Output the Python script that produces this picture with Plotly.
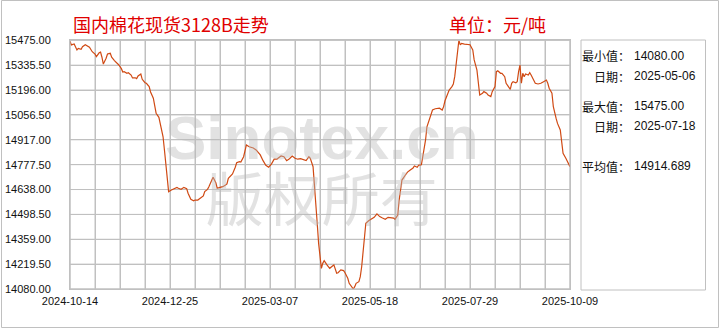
import plotly.graph_objects as go
import pandas as pd

# ---------------- data ----------------
title_text = "国内棉花现货3128B走势"
unit_text = "单位：元/吨"

dates = [
    "2024-10-14", "2024-10-15", "2024-10-17", "2024-10-19", "2024-10-20", "2024-10-22", "2024-10-23", "2024-10-25", "2024-10-28", "2024-10-30",
    "2024-11-01", "2024-11-02", "2024-11-04", "2024-11-05", "2024-11-06", "2024-11-07", "2024-11-09", "2024-11-10", "2024-11-12", "2024-11-13",
    "2024-11-15", "2024-11-17", "2024-11-18", "2024-11-20", "2024-11-21", "2024-11-22", "2024-11-24", "2024-11-25", "2024-11-27", "2024-11-28", "2024-11-30",
    "2024-12-01", "2024-12-02", "2024-12-04", "2024-12-05", "2024-12-07", "2024-12-08", "2024-12-10", "2024-12-11", "2024-12-13", "2024-12-14", "2024-12-15",
    "2024-12-17", "2024-12-18", "2024-12-20", "2024-12-21", "2024-12-22", "2024-12-23", "2024-12-24", "2024-12-26", "2024-12-28", "2024-12-30", "2024-12-31",
    "2025-01-02", "2025-01-04", "2025-01-06", "2025-01-07", "2025-01-09", "2025-01-11", "2025-01-12", "2025-01-14", "2025-01-16", "2025-01-18",
    "2025-01-19", "2025-01-21", "2025-01-22", "2025-01-23", "2025-01-25", "2025-01-27", "2025-01-28", "2025-01-30",
    "2025-02-01", "2025-02-03", "2025-02-04", "2025-02-05", "2025-02-07", "2025-02-08", "2025-02-10", "2025-02-11", "2025-02-13", "2025-02-14",
    "2025-02-16", "2025-02-17", "2025-02-18", "2025-02-20", "2025-02-23", "2025-02-25", "2025-02-28",
    "2025-03-02", "2025-03-04", "2025-03-06", "2025-03-08", "2025-03-10", "2025-03-12", "2025-03-13", "2025-03-15", "2025-03-17", "2025-03-19",
    "2025-03-21", "2025-03-23", "2025-03-25", "2025-03-27", "2025-03-29", "2025-03-31",
    "2025-04-02", "2025-04-04", "2025-04-05", "2025-04-07", "2025-04-08", "2025-04-09", "2025-04-10", "2025-04-11", "2025-04-12", "2025-04-13",
    "2025-04-14", "2025-04-15", "2025-04-17", "2025-04-18", "2025-04-19", "2025-04-21", "2025-04-22", "2025-04-24", "2025-04-25", "2025-04-27",
    "2025-04-29", "2025-04-30",
    "2025-05-02", "2025-05-03", "2025-05-06", "2025-05-07", "2025-05-08", "2025-05-10", "2025-05-11", "2025-05-12", "2025-05-13", "2025-05-14",
    "2025-05-15", "2025-05-17", "2025-05-19", "2025-05-21", "2025-05-23", "2025-05-25", "2025-05-27", "2025-05-29", "2025-05-31",
    "2025-06-02", "2025-06-04", "2025-06-05", "2025-06-07", "2025-06-08", "2025-06-09", "2025-06-10", "2025-06-12", "2025-06-14", "2025-06-16",
    "2025-06-18", "2025-06-19", "2025-06-21", "2025-06-22", "2025-06-24", "2025-06-25", "2025-06-26", "2025-06-27", "2025-06-28", "2025-06-30",
    "2025-07-01", "2025-07-02", "2025-07-04", "2025-07-07", "2025-07-09", "2025-07-10", "2025-07-11", "2025-07-13", "2025-07-14", "2025-07-16",
    "2025-07-17", "2025-07-18", "2025-07-19", "2025-07-20", "2025-07-21", "2025-07-22", "2025-07-23", "2025-07-25", "2025-07-27", "2025-07-29", "2025-07-31",
    "2025-08-01", "2025-08-03", "2025-08-04", "2025-08-05", "2025-08-07", "2025-08-08", "2025-08-10", "2025-08-11", "2025-08-13", "2025-08-14",
    "2025-08-16", "2025-08-17", "2025-08-18", "2025-08-20", "2025-08-21", "2025-08-23", "2025-08-24", "2025-08-26", "2025-08-27", "2025-08-28",
    "2025-08-29", "2025-08-31",
    "2025-09-01", "2025-09-02", "2025-09-03", "2025-09-04", "2025-09-05", "2025-09-06", "2025-09-07", "2025-09-09", "2025-09-10", "2025-09-11",
    "2025-09-13", "2025-09-14", "2025-09-16", "2025-09-18", "2025-09-20", "2025-09-22", "2025-09-23", "2025-09-24", "2025-09-26", "2025-09-27",
    "2025-09-29", "2025-09-30",
    "2025-10-02", "2025-10-03", "2025-10-04", "2025-10-06", "2025-10-07", "2025-10-09",
]

prices = [
    15470, 15449, 15454, 15421, 15430, 15425, 15439, 15450, 15436, 15411,
    15398, 15383, 15405, 15409, 15380, 15342, 15374, 15398, 15402, 15380,
    15361, 15349, 15338, 15316, 15297, 15299, 15290, 15293, 15280, 15264, 15265,
    15260, 15275, 15286, 15256, 15237, 15234, 15215, 15185, 15150, 15107, 15066,
    15043, 15000, 14934, 14860, 14766, 14673, 14626, 14635, 14645, 14650, 14645,
    14639, 14650, 14643, 14617, 14583, 14575, 14579, 14579, 14590, 14602,
    14626, 14639, 14654, 14673, 14707, 14676, 14645, 14650,
    14654, 14663, 14669, 14701, 14714, 14725, 14763, 14788, 14794, 14792,
    14822, 14864, 14888, 14878, 14871, 14860, 14832,
    14800, 14774, 14763, 14781, 14808, 14808, 14815, 14826, 14822, 14800,
    14811, 14826, 14813, 14808, 14811, 14804,
    14800, 14822, 14813, 14766, 14673, 14561, 14449, 14336, 14243, 14196,
    14224, 14239, 14215, 14202, 14196, 14209, 14215, 14168, 14171, 14187,
    14183, 14171,
    14140, 14112, 14080, 14093, 14112, 14121, 14149, 14205, 14280, 14373,
    14449, 14463, 14471, 14482, 14501, 14486, 14478, 14471, 14482,
    14478, 14478, 14471, 14495, 14579, 14654, 14691, 14714, 14736, 14748,
    14759, 14770, 14763, 14774, 14777, 14822, 14860, 14916, 14990, 15037,
    15056, 15084, 15091, 15094, 15084, 15103, 15136, 15178, 15196, 15215,
    15230, 15271, 15346, 15421, 15475, 15449, 15458, 15454, 15454, 15450, 15421,
    15365, 15308, 15234, 15168, 15178, 15187, 15178, 15168, 15159, 15187,
    15215, 15299, 15304, 15290, 15290, 15271, 15234, 15211, 15200, 15234,
    15243, 15237,
    15243, 15299, 15336, 15234, 15290, 15271, 15286, 15280, 15293, 15280,
    15252, 15234, 15230, 15234, 15243, 15252, 15234, 15206, 15178, 15103,
    15037, 15009,
    14972, 14897, 14841, 14813, 14794, 14766,
]

x_start = "2024-10-14"
x_end = "2025-10-09"
y_min = 14080.0
y_max = 15475.0

stat_labels = ["最小值：", "日期：", "最大值：", "日期：", "平均值："]
stat_values = ["14080.00", "2025-05-06", "15475.00", "2025-07-18", "14914.689"]

watermark_lines = ["Sinotex.cn", "版权所有"]

# ---------------- styling / layout ----------------
W, H = 720, 330
def px(x):
    return x / W
def py(y):
    return 1 - y / H

GRID = "#c0c0c0"
LINE = "#d04a14"
RED = "#e00000"
CLEAR = "rgba(0,0,0,0)"
DAY = 86400000
X_MINOR_DAYS = 18
Y_STEP = (y_max - y_min) / 10
TICK_FONT = dict(family="Liberation Sans, Arial, sans-serif", size=11, color="#111")
CJK = "Noto Sans CJK SC, sans-serif"

# grid drawn as a trace beneath the price line, derived from the axis tick settings
grid_x, grid_y = [], []
n_x = int((pd.Timestamp(x_end) - pd.Timestamp(x_start)).days // X_MINOR_DAYS)
for k in range(n_x + 1):
    xv = (pd.Timestamp(x_start) + pd.Timedelta(days=X_MINOR_DAYS * k)).strftime("%Y-%m-%d")
    grid_x += [xv, xv, None]
    grid_y += [y_min, y_max, None]
for k in range(11):
    yv = y_min + Y_STEP * k
    grid_x += [x_start, x_end, None]
    grid_y += [yv, yv, None]

fig = go.Figure()
fig.add_trace(go.Scatter(
    x=grid_x, y=grid_y, mode="lines", connectgaps=False,
    line=dict(color=GRID, width=1),
    hoverinfo="skip", showlegend=False,
))
fig.add_trace(go.Scatter(
    x=dates, y=prices, mode="lines",
    line=dict(color=LINE, width=1.2),
    hoverinfo="skip", showlegend=False,
))

fig.update_layout(
    width=W, height=H, autosize=False,
    margin=dict(l=0, r=0, t=0, b=0, pad=0, autoexpand=False),
    paper_bgcolor="white", plot_bgcolor="white",
    showlegend=False,
    xaxis=dict(
        type="date", domain=[px(70), px(570)], range=[x_start, x_end],
        automargin=False,
        tick0=x_start, dtick=4 * X_MINOR_DAYS * DAY, tickformat="%Y-%m-%d",
        showgrid=True, gridcolor=GRID, gridwidth=1,
        minor=dict(tick0=x_start, dtick=X_MINOR_DAYS * DAY, showgrid=True, gridcolor=GRID, gridwidth=1),
        showline=True, linecolor=GRID, linewidth=1, mirror=True,
        ticks="outside", ticklen=2, tickcolor=CLEAR,
        zeroline=False, tickfont=TICK_FONT,
    ),
    yaxis=dict(
        domain=[py(289), py(40.3)], range=[y_min, y_max],
        automargin=False,
        tick0=y_min, dtick=Y_STEP, tickformat=".2f",
        showgrid=True, gridcolor=GRID, gridwidth=1,
        showline=True, linecolor=GRID, linewidth=1, mirror=True,
        ticks="outside", ticklen=16, tickcolor=CLEAR,
        zeroline=False, tickfont=TICK_FONT,
    ),
)

shapes = [
    # plot-area frame
    dict(type="rect", xref="x domain", yref="y domain", x0=0, x1=1, y0=0, y1=1,
         line=dict(color=GRID, width=1)),
    # outer frame
    dict(type="rect", xref="paper", yref="paper", x0=px(1.5), x1=px(718.5), y0=py(327.5), y1=py(0.5),
         line=dict(color="#c0c0c0", width=1)),
    # stats panel frame
    dict(type="rect", xref="paper", yref="paper", x0=px(581), x1=px(705.5), y0=py(290), y1=py(40),
         line=dict(color="#c0c0c0", width=1)),
]
fig.update_layout(shapes=shapes)

ann = []
# watermark: one two-line text block
WM = "rgba(185,185,185,0.42)"
wm_text = ("<span style=\"font-family:Liberation Sans;font-size:62px;font-weight:bold\">"
           + watermark_lines[0] + "</span><br>"
           + "<span style=\"font-size:58px\">" + watermark_lines[1] + "</span>")
ann.append(dict(text=wm_text, x=px(322), y=py(170), xref="paper", yref="paper",
                xanchor="center", yanchor="middle", align="center", showarrow=False,
                font=dict(family=CJK, size=48, color=WM)))
# title + unit
ann.append(dict(text=title_text, x=px(71), y=py(24), xref="paper", yref="paper",
                xanchor="left", yanchor="middle", showarrow=False,
                font=dict(family=CJK, size=18, color=RED)))
ann.append(dict(text=unit_text, x=px(447), y=py(24), xref="paper", yref="paper",
                xanchor="left", yanchor="middle", showarrow=False,
                font=dict(family=CJK, size=18, color=RED)))
# stats panel
row_y = [56, 76, 106, 126, 166]
for lab, val, yy in zip(stat_labels, stat_values, row_y):
    ann.append(dict(text=lab, x=px(632), y=py(yy), xref="paper", yref="paper",
                    xanchor="right", yanchor="middle", showarrow=False,
                    font=dict(family=CJK, size=12, color="#111")))
    ann.append(dict(text=val, x=px(632), y=py(yy), xref="paper", yref="paper",
                    xanchor="left", yanchor="middle", showarrow=False,
                    font=dict(family="Liberation Sans, Arial, sans-serif", size=12, color="#111")))
fig.update_layout(annotations=ann)

fig.write_html("out.html", config=dict(displayModeBar=False))
